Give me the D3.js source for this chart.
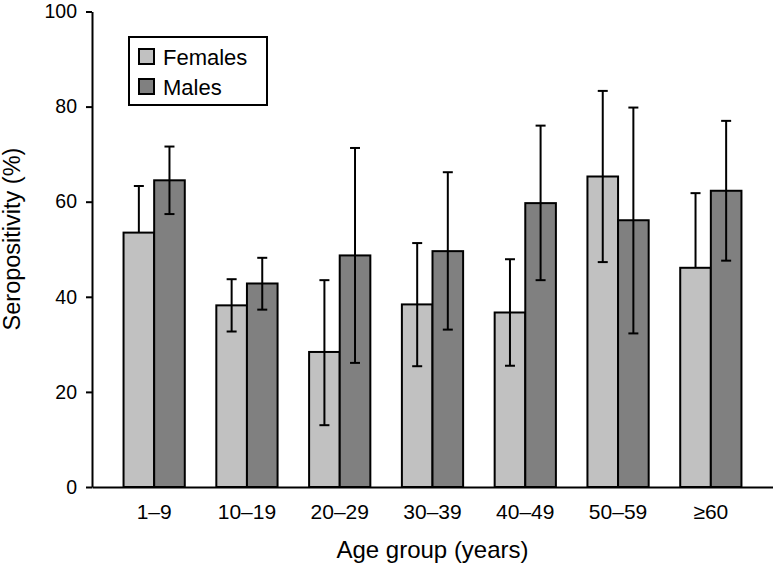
<!DOCTYPE html>
<html>
<head>
<meta charset="utf-8">
<script src="https://cdn.jsdelivr.net/npm/d3@7"></script>
<style>
  html, body { margin: 0; padding: 0; background: #fff; }
  svg { display: block; }
  text { font-family: "Liberation Sans", Arial, sans-serif; fill: #000; }
</style>
</head>
<body>
<svg id="chart" width="773" height="566"></svg>
<script>
const categories = ["1\u20139", "10\u201319", "20\u201329", "30\u201339", "40\u201349", "50\u201359", "\u226560"];
const seriesNames = ["Females", "Males"];
const femalesValue = [53.5, 38.2, 28.4, 38.4, 36.7, 65.3, 46.1];
const femalesUpper = [63.3, 43.7, 43.5, 51.3, 47.9, 83.3, 61.8];
const femalesLower = [null, 32.7, 13.0, 25.4, 25.5, 47.3, null];
const malesValue = [64.5, 42.8, 48.7, 49.6, 59.7, 56.1, 62.3];
const malesUpper = [71.6, 48.2, 71.3, 66.2, 76.0, 79.8, 77.0];
const malesLower = [57.4, 37.3, 26.1, 33.1, 43.5, 32.3, 47.6];
const yTicks = [0, 20, 40, 60, 80, 100];

const colors = {Females: "#c1c1c1", Males: "#808080"};

const svg = d3.select("#chart");
const mLeft = 92, mRight = 773, mTop = 11.5, mBottom = 487;

const x0 = d3.scaleBand().domain(categories).range([mLeft, mRight])
  .paddingInner(0.34).paddingOuter(0.34);
const x1 = d3.scaleBand().domain(seriesNames).range([0, x0.bandwidth()]).padding(0);
const y = d3.scaleLinear().domain([0, 100]).range([mBottom, mTop]);

const data = [];
categories.forEach((c, i) => {
  data.push({cat: c, s: "Females", v: femalesValue[i], hi: femalesUpper[i], lo: femalesLower[i]});
  data.push({cat: c, s: "Males", v: malesValue[i], hi: malesUpper[i], lo: malesLower[i]});
});

// bars
svg.append("g").selectAll("rect").data(data).join("rect")
  .attr("x", d => x0(d.cat) + x1(d.s))
  .attr("y", d => y(d.v))
  .attr("width", x1.bandwidth())
  .attr("height", d => y(0) - y(d.v))
  .attr("fill", d => colors[d.s])
  .attr("stroke", "#000")
  .attr("stroke-width", 2);

// error bars
const capW = 10;
const eg = svg.append("g").attr("stroke", "#000").attr("stroke-width", 2);
data.forEach(d => {
  const cx = x0(d.cat) + x1(d.s) + x1.bandwidth() / 2;
  const yLo = d.lo == null ? d.v : d.lo;
  eg.append("line").attr("x1", cx).attr("x2", cx).attr("y1", y(d.hi)).attr("y2", y(yLo));
  eg.append("line").attr("x1", cx - capW / 2).attr("x2", cx + capW / 2).attr("y1", y(d.hi)).attr("y2", y(d.hi));
  if (d.lo != null) {
    eg.append("line").attr("x1", cx - capW / 2).attr("x2", cx + capW / 2).attr("y1", y(d.lo)).attr("y2", y(d.lo));
  }
});

// y axis
const yAxis = d3.axisLeft(y).tickValues(yTicks).tickSize(6).tickPadding(9).tickSizeOuter(0);
const ya = svg.append("g").attr("transform", `translate(${mLeft},0)`).call(yAxis);
ya.select(".domain").attr("stroke", "#000").attr("stroke-width", 2);
ya.selectAll(".tick line").attr("stroke", "#000").attr("stroke-width", 2);
ya.selectAll(".tick text").attr("font-size", 19.5).attr("font-family", "Liberation Sans, Arial, sans-serif").attr("fill", "#000");

// x axis
const xAxis = d3.axisBottom(x0).tickSize(0).tickPadding(17).tickSizeOuter(0);
const xa = svg.append("g").attr("transform", `translate(0,${mBottom})`).call(xAxis);
xa.select(".domain").attr("stroke", "#000").attr("stroke-width", 2);
xa.selectAll(".tick text").attr("font-size", 21).attr("font-family", "Liberation Sans, Arial, sans-serif").attr("fill", "#000");

// axis titles
svg.append("text").attr("x", (mLeft + mRight) / 2).attr("y", 558)
  .attr("text-anchor", "middle").attr("font-size", 24).text("Age group (years)");
svg.append("text").attr("transform", `translate(20,239) rotate(-90)`)
  .attr("text-anchor", "middle").attr("font-size", 23.5).text("Seropositivity (%)");

// legend
const lg = svg.append("g");
lg.append("rect").attr("x", 129).attr("y", 37).attr("width", 138).attr("height", 68)
  .attr("fill", "#fff").attr("stroke", "#000").attr("stroke-width", 2);
seriesNames.forEach((s, i) => {
  const yy = 49 + i * 30;
  lg.append("rect").attr("x", 139).attr("y", yy).attr("width", 15).attr("height", 15)
    .attr("fill", colors[s]).attr("stroke", "#000").attr("stroke-width", 2);
  lg.append("text").attr("x", 163).attr("y", yy + 15.5).attr("font-size", 22).text(s);
});
</script>
</body>
</html>
